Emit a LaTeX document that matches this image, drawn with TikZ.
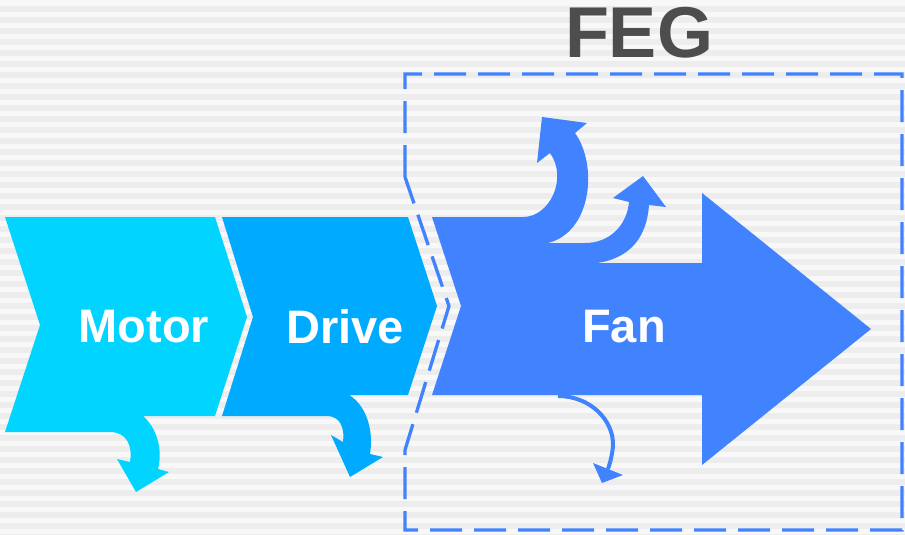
\documentclass[tikz,border=0pt]{standalone}
\usepackage{fontspec}
\setmainfont{Liberation Sans}
\definecolor{bglight}{HTML}{F8F8F8}
\definecolor{bgdark}{HTML}{EDEDED}
\definecolor{motorcol}{HTML}{00D4FF}
\definecolor{drivecol}{HTML}{00AAFF}
\definecolor{fancol}{HTML}{4183FF}
\definecolor{fegcol}{HTML}{4D4D4D}
\begin{document}
\begin{tikzpicture}[x=1pt,y=-1pt,
  stagelabel/.style={text=white,font=\bfseries\fontsize{47}{52}\selectfont,inner sep=0pt},
  feglabel/.style={text=fegcol,font=\bfseries\fontsize{72}{77}\selectfont,inner sep=0pt},
  boundary/.style={draw=fancol,line width=3.3pt,dash pattern=on 32pt off 12pt},
  lossline/.style={draw=fancol,line width=4pt}]
\useasboundingbox (0,0) rectangle (905,535);
% background stripes
\fill[bglight] (0,0) rectangle (905,535);
\foreach \k in {0,...,48} \fill[bgdark] (0,{6+11*\k}) rectangle (905,{11.6+11*\k});
% Motor
\fill[motorcol] (5,217) -- (215,217) -- (247,317) -- (215,416) -- (143,416)
  .. controls (157,428) and (163,450) .. (158,469) -- (169,472) -- (136,492)
  -- (117,459) -- (130,462) .. controls (133,445) and (126,432) .. (110,432)
  -- (5,432) -- (40,325) -- cycle;
% Drive
\fill[drivecol] (222,217) -- (408,217) -- (437,306) -- (408,395) -- (349,395)
  .. controls (366,405) and (374,430) .. (370,454) -- (383,457) -- (350,477)
  -- (331,435) -- (343,442) .. controls (345,428) and (340,416) .. (327,416)
  -- (222,416) -- (253,317) -- cycle;
% Fan
\fill[fancol] (432,217) -- (523,217)
  .. controls (550,217) and (568,178) .. (550,153) -- (537,163) -- (542,117)
  -- (587,123) -- (575,133) .. controls (598,165) and (592,232) .. (548,243)
  -- (585,243) .. controls (610,243) and (627,225) .. (629,202) -- (613,198)
  -- (643,176) -- (666,207) -- (649,205) .. controls (647,235) and (632,258) .. (597,263)
  -- (702,263) -- (702,193) -- (871,329) -- (702,465) -- (702,395)
  -- (432,395) -- (461,306) -- cycle;
% small loss arrow below fan
\coordinate (lossstart) at (558,396);
\coordinate (lossend) at (608,469);
\draw[lossline] (lossstart) .. controls (590,396) and (614,420) .. (613,446)
  .. controls (612,456) and (610,463) .. (lossend);
\fill[fancol] (593,463) -- (623,475) -- (602,483) -- cycle;
% FEG boundary
\draw[boundary] (405,177) -- (405,74) -- (902,74) -- (902,530) -- (405,530)
  -- (405,450) -- (449,306) -- cycle;
% labels
\node[stagelabel] (motor) at (144,327) {Motor};
\node[stagelabel] (drive) at (345,327) {Drive};
\node[stagelabel] (fan) at (624,327) {Fan};
\node[feglabel] (feg) at (639,33) {FEG};
\end{tikzpicture}
\end{document}
